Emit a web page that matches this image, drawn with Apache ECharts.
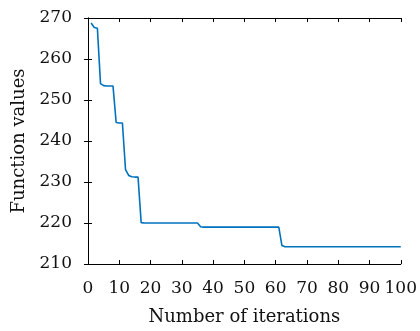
<!DOCTYPE html>
<html>
<head>
<meta charset="utf-8">
<script src="https://cdn.jsdelivr.net/npm/echarts@6/dist/echarts.min.js"></script>
<style>
html,body{margin:0;padding:0;background:#fff;}
#c{width:420px;height:331px;}
</style>
</head>
<body>
<div id="c"></div>
<script>
// Function value at each iteration (iterations 1..100)
var functionValues = [
  268.8, 267.7, 267.5, 254.0, 253.5, 253.4, 253.4, 253.4, 244.5, 244.4,
  244.4, 233.0, 231.6, 231.3, 231.2, 231.2, 220.1, 220.0, 220.0, 220.0,
  220.0, 220.0, 220.0, 220.0, 220.0, 220.0, 220.0, 220.0, 220.0, 220.0,
  220.0, 220.0, 220.0, 220.0, 220.0, 219.1, 219.0, 219.0, 219.0, 219.0,
  219.0, 219.0, 219.0, 219.0, 219.0, 219.0, 219.0, 219.0, 219.0, 219.0,
  219.0, 219.0, 219.0, 219.0, 219.0, 219.0, 219.0, 219.0, 219.0, 219.0,
  219.0, 214.5, 214.2, 214.2, 214.2, 214.2, 214.2, 214.2, 214.2, 214.2,
  214.2, 214.2, 214.2, 214.2, 214.2, 214.2, 214.2, 214.2, 214.2, 214.2,
  214.2, 214.2, 214.2, 214.2, 214.2, 214.2, 214.2, 214.2, 214.2, 214.2,
  214.2, 214.2, 214.2, 214.2, 214.2, 214.2, 214.2, 214.2, 214.2, 214.2
];
var xTicks = [0, 10, 20, 30, 40, 50, 60, 70, 80, 90, 100];
var yTicks = [210, 220, 230, 240, 250, 260, 270];
var xLabel = 'Number of iterations';
var yLabel = 'Function values';

var points = functionValues.map(function (v, i) { return [i + 1, v]; });
var font = 'DejaVu Serif';

var axisCommon = {
  axisLine: {show: true, lineStyle: {color: '#000', width: 1}},
  axisTick: {show: true, inside: true, length: 4, lineStyle: {color: '#000', width: 1}},
  splitLine: {show: false}
};

var chart = echarts.init(document.getElementById('c'), null, {renderer: 'canvas'});
chart.setOption({
  animation: false,
  backgroundColor: '#fff',
  grid: {left: 88, right: 14.5, top: 18, bottom: 66, containLabel: false},
  xAxis: [
    Object.assign({
      type: 'value', position: 'bottom',
      min: xTicks[0], max: xTicks[xTicks.length - 1], interval: 10,
      name: xLabel, nameLocation: 'middle', nameGap: 44,
      nameTextStyle: {fontFamily: font, fontSize: 18, color: '#111'},
      axisLabel: {margin: 16, fontFamily: font, fontSize: 17, color: '#111'}
    }, axisCommon),
    Object.assign({
      type: 'value', position: 'top',
      min: xTicks[0], max: xTicks[xTicks.length - 1], interval: 10,
      axisLabel: {show: false}
    }, axisCommon)
  ],
  yAxis: [
    Object.assign({
      type: 'value', position: 'left',
      min: yTicks[0], max: yTicks[yTicks.length - 1], interval: 10,
      name: yLabel, nameLocation: 'middle', nameGap: 60, nameRotate: 90,
      nameTextStyle: {fontFamily: font, fontSize: 18, color: '#111'},
      axisLabel: {margin: 16, fontFamily: font, fontSize: 17, color: '#111'}
    }, axisCommon),
    Object.assign({
      type: 'value', position: 'right',
      min: yTicks[0], max: yTicks[yTicks.length - 1], interval: 10,
      axisLabel: {show: false}
    }, axisCommon)
  ],
  series: [{
    type: 'line',
    data: points,
    showSymbol: false,
    symbol: 'none',
    lineStyle: {color: '#0072BD', width: 1.6},
    xAxisIndex: 0, yAxisIndex: 0
  }]
});
</script>
</body>
</html>
